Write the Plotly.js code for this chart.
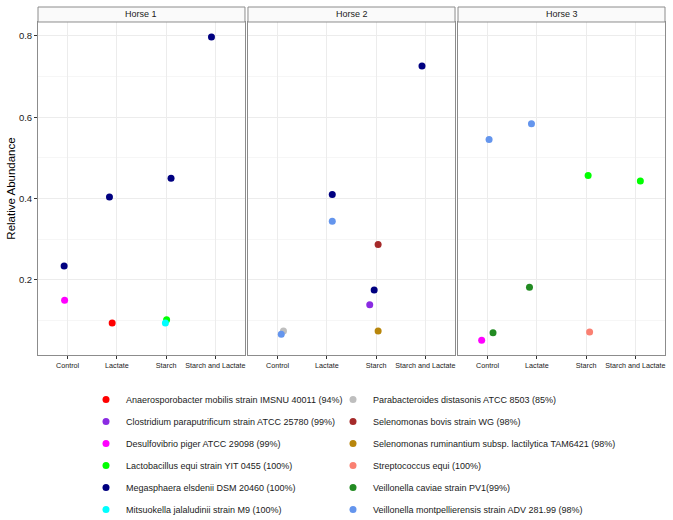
<!DOCTYPE html>
<html>
<head>
<meta charset="utf-8">
<script src="https://cdn.plot.ly/plotly-3.0.1.min.js"></script>
<style>html,body{margin:0;padding:0;background:#fff;}#chart{width:673px;height:520px;}</style>
</head>
<body>
<div id="chart"></div>
<script>
// ---- data ----
var horses = ["Horse 1", "Horse 2", "Horse 3"];
var treatments = ["Control", "Lactate", "Starch", "Starch and Lactate"];
var species = [
  "Anaerosporobacter mobilis strain IMSNU 40011 (94%)",
  "Clostridium paraputrificum strain ATCC 25780 (99%)",
  "Desulfovibrio piger ATCC 29098 (99%)",
  "Lactobacillus equi strain YIT 0455 (100%)",
  "Megasphaera elsdenii DSM 20460 (100%)",
  "Mitsuokella jalaludinii strain M9 (100%)",
  "Parabacteroides distasonis ATCC 8503 (85%)",
  "Selenomonas bovis strain WG (98%)",
  "Selenomonas ruminantium subsp. lactilytica TAM6421 (98%)",
  "Streptococcus equi (100%)",
  "Veillonella caviae strain PV1(99%)",
  "Veillonella montpellierensis strain ADV 281.99 (98%)"
];
var speciesColors = ["#FF0000", "#8A2BE2", "#FF00FF", "#00FF00", "#000080", "#00FFFF",
                     "#BEBEBE", "#A52A2A", "#B8860B", "#FA8072", "#228B22", "#6495ED"];

// one entry per point
var pointHorse     = [0,0,0,0,0,0,0,0, 1,1,1,1,1,1,1,1,1, 2,2,2,2,2,2,2,2];
var pointTreatment = [0,0,1,1,2,2,2,3, 0,0,1,1,2,2,2,2,3, 0,0,0,1,1,2,2,3];
var pointSpecies   = [4,2,4,0,4,3,5,4, 6,11,4,11,7,4,1,8,4, 11,10,2,11,10,3,9,3];
var pointValue     = [0.234,0.150,0.404,0.094,0.450,0.102,0.094,0.797,
                      0.0745,0.0665,0.410,0.344,0.287,0.175,0.139,0.0745,0.726,
                      0.545,0.070,0.052,0.584,0.182,0.457,0.072,0.443];
var pointJitter    = [-0.07,-0.06,-0.15,-0.095,0.10,0.01,-0.015,-0.08,
                      0.12,0.075,0.11,0.11,0.04,-0.04,-0.13,0.04,-0.07,
                      0.03,0.11,-0.12,-0.11,-0.15,0.04,0.07,0.10];

var yTicks = [0.2, 0.4, 0.6, 0.8];
var yMinor = [0.1, 0.3, 0.5, 0.7];

// ---- build ----
var FONT = "Liberation Sans, Arial, Helvetica, sans-serif";
var traces = [];
for (var s = 0; s < species.length; s++) {
  var first = true;
  for (var h = 0; h < horses.length; h++) {
    var xs = [], ys = [];
    for (var i = 0; i < pointValue.length; i++) {
      if (pointSpecies[i] === s && pointHorse[i] === h) {
        xs.push(pointTreatment[i] + 1 + pointJitter[i]);
        ys.push(pointValue[i]);
      }
    }
    if (!xs.length) continue;
    traces.push({
      type: "scatter", mode: "markers",
      x: xs, y: ys,
      xaxis: h === 0 ? "x" : "x" + (h + 1),
      yaxis: h === 0 ? "y" : "y" + (h + 1),
      name: species[s],
      legendgroup: species[s],
      legend: s < 6 ? "legend" : "legend2",
      showlegend: first,
      marker: {color: speciesColors[s], size: 7, line: {width: 0}},
      hoverinfo: "x+y+name"
    });
    first = false;
  }
}

var domains = [[0, 0.3301], [0.3349, 0.6651], [0.6699, 1]];
var yTop = 0.9569;
var legY = (355 - 385) / 348;
var layout = {
  width: 673, height: 520,
  margin: {l: 38, r: 8, t: 7, b: 165, autoexpand: false},
  paper_bgcolor: "#fff", plot_bgcolor: "#fff",
  font: {family: FONT, color: "#1a1a1a"},
  showlegend: true,
  legend: {
    x: (86 - 38) / 627, y: legY, xanchor: "left", yanchor: "top",
    orientation: "v", tracegroupgap: 3, font: {size: 9, family: FONT, color: "#1a1a1a"},
    bgcolor: "rgba(0,0,0,0)"
  },
  legend2: {
    x: (333 - 38) / 627, y: legY, xanchor: "left", yanchor: "top",
    orientation: "v", tracegroupgap: 3, font: {size: 9, family: FONT, color: "#1a1a1a"},
    bgcolor: "rgba(0,0,0,0)"
  },
  shapes: [],
  annotations: []
};
for (var h = 0; h < 3; h++) {
  var xn = h === 0 ? "xaxis" : "xaxis" + (h + 1);
  var yn = h === 0 ? "yaxis" : "yaxis" + (h + 1);
  layout[xn] = {
    domain: domains[h], anchor: h === 0 ? "y" : "y" + (h + 1),
    range: [0.4, 4.6], tickmode: "array", tickvals: [1, 2, 3, 4], ticktext: treatments,
    ticks: "outside", ticklen: 3, tickcolor: "#333", tickwidth: 1,
    tickfont: {size: 7.2, family: FONT, color: "#1a1a1a"},
    showgrid: true, gridcolor: "#ececec", gridwidth: 1,
    showline: true, linecolor: "#8c8c8c", linewidth: 1, mirror: true,
    zeroline: false, fixedrange: true, automargin: false
  };
  layout[yn] = {
    domain: [0, yTop], anchor: h === 0 ? "x" : "x" + (h + 1),
    range: [0.0155, 0.834], tickmode: "array", tickvals: yTicks,
    ticktext: yTicks.map(function (v) { return v.toFixed(1); }),
    showticklabels: h === 0, ticks: h === 0 ? "outside" : "", ticklen: 3, tickcolor: "#333",
    tickfont: {size: 9.5, family: FONT, color: "#1a1a1a"},
    showgrid: true, gridcolor: "#ececec", gridwidth: 1,
    minor: {tickvals: yMinor, showgrid: true, gridcolor: "#f6f6f6", gridwidth: 0.8, ticks: ""},
    showline: true, linecolor: "#8c8c8c", linewidth: 1, mirror: true,
    zeroline: false, fixedrange: true, automargin: false
  };
  if (h === 0) {
    layout[yn].title = {text: "Relative Abundance", font: {size: 11.5, family: FONT, color: "#000"}, standoff: 0};
  }
  // facet strip
  layout.shapes.push({
    type: "rect", xref: "paper", yref: "paper",
    x0: domains[h][0], x1: domains[h][1], y0: yTop, y1: 1,
    fillcolor: "#fafafa", line: {color: "#8c8c8c", width: 1}
  });
  layout.annotations.push({
    xref: "paper", yref: "paper", x: (domains[h][0] + domains[h][1]) / 2, y: (yTop + 1) / 2,
    text: horses[h], showarrow: false, xanchor: "center", yanchor: "middle",
    font: {size: 9, family: FONT, color: "#1a1a1a"}
  });
}
Plotly.newPlot("chart", traces, layout, {displayModeBar: false});
</script>
</body>
</html>
